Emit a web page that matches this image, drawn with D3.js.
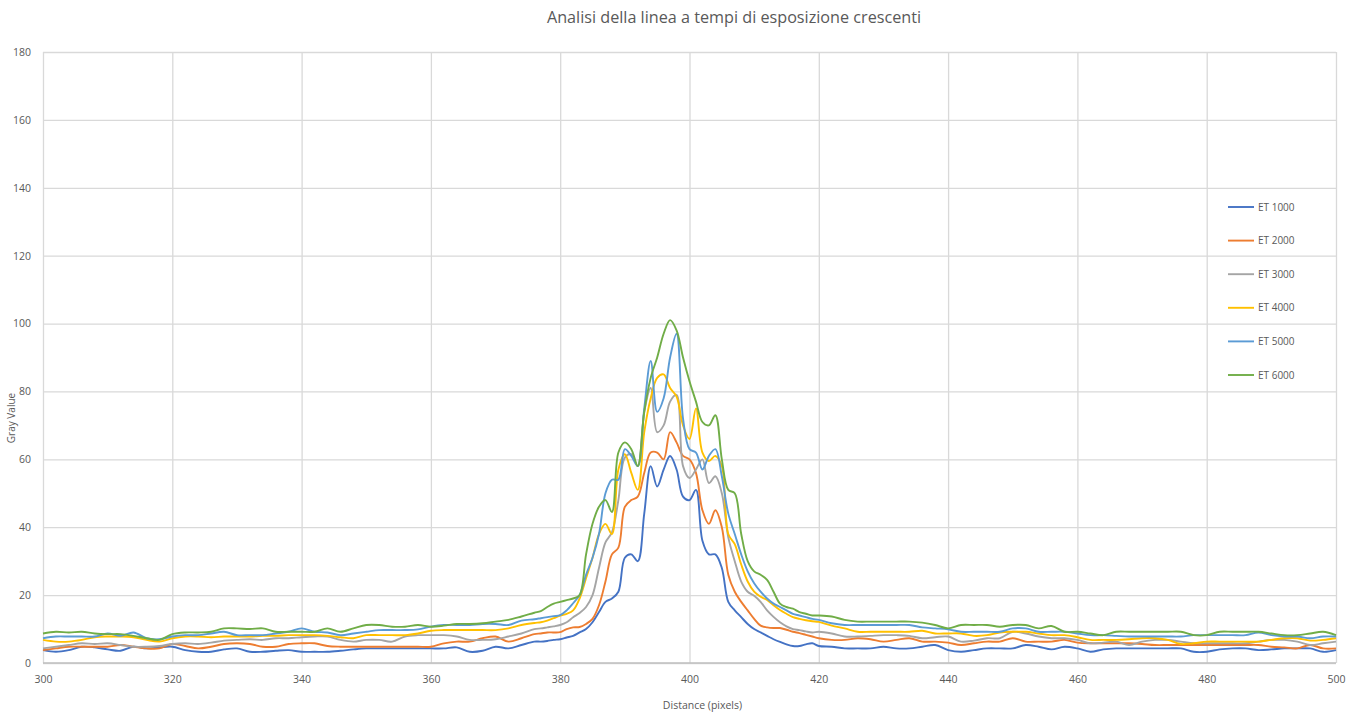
<!DOCTYPE html>
<html>
<head>
<meta charset="utf-8">
<script src="https://cdn.jsdelivr.net/npm/d3@7"></script>
<style>
  body { margin: 0; background: #fff; }
  text { font-family: "Open Sans", sans-serif; }
</style>
</head>
<body>
<div id="chart"></div>
<script>
// distance samples (pixels): every 2 px on the flat parts, every px around the peak
const distance = [
  ...d3.range(300, 377, 2),
  ...d3.range(377, 421, 1),
  ...d3.range(422, 501, 2),
];

// gray values
const et1000 = [
  3.8, 3.3, 3.8, 4.8, 4.6, 4, 3.6, 4.8, 4.3, 4.6,
  4.8, 3.8, 3.3, 3.3, 4, 4.3, 3.3, 3.3, 3.6, 3.8,
  3.3, 3.3, 3.3, 3.6, 4, 4.3, 4.3, 4.3, 4.3, 4.3,
  4.3, 4.3, 4.6, 3.3, 3.6, 4.8, 4.3, 5.3, 6.3,
  // 377 - 420
  6.3, 6.5, 6.8, 7, 7.5, 8, 9, 10, 12, 15,
  18, 19, 21, 31, 32, 30, 44, 58, 52, 57,
  61, 57, 49, 48, 51, 36, 32, 32, 28, 18,
  15.5, 13.5, 11.5, 10, 9, 8, 7, 6.2, 5.5, 5,
  5, 5.5, 5.8, 5,
  // 422 - 500
  4.8, 4.3, 4.3, 4.3, 4.8, 4.3, 4.3, 4.8, 5.3, 3.8,
  3.3, 3.8, 4.3, 4.3, 4.3, 5.3, 4.8, 4, 4.8, 4.3,
  3.3, 4, 4.3, 4.3, 4.3, 4.3, 4.3, 4.3, 3.3, 3.3,
  4, 4.3, 4.3, 3.8, 4, 4.3, 4.3, 4.3, 3.3, 3.8,
];
const et2000 = [
  3.8, 4.3, 4.8, 4.8, 4.8, 4.8, 5.3, 4.8, 4.3, 4.3,
  5.6, 5, 4.3, 4.8, 5.6, 5.8, 5.6, 4.8, 4.8, 5.6,
  5.8, 5.8, 5, 4.8, 4.8, 4.8, 4.8, 4.8, 4.8, 4.8,
  4.8, 5.8, 6.3, 6.3, 7.3, 7.8, 6.3, 7.3, 8.5,
  8.7, 9, 9, 9.1, 10, 10.5, 10.6, 11.5, 13, 17,
  24, 32, 34, 46, 48, 49, 56, 62, 62, 60,
  68, 65, 61, 60, 56, 45, 41, 45, 40, 26,
  21, 18, 15.5, 13, 11, 10.5, 10.3, 10.3, 9.8, 9.2,
  8.8, 8.3, 7.8, 7.3,
  6.8, 6.8, 7.3, 7, 6.3, 6.8, 7.3, 6.3, 6.3, 6,
  5.3, 5.8, 6.3, 6.3, 7.3, 6.3, 6.3, 6.3, 6.8, 6,
  5.8, 5.8, 5.8, 5.8, 5.6, 5.3, 5.3, 5.3, 5.3, 5.3,
  5.3, 5.3, 5.3, 5.3, 4.8, 4.6, 4.3, 5.3, 4.3, 4.3,
];
const et3000 = [
  4.3, 4.8, 5.3, 5.8, 5.6, 5.8, 5.3, 4.8, 4.8, 5,
  5.6, 5.8, 5.6, 6, 6.6, 6.8, 7, 6.8, 7.3, 7.3,
  7.6, 7.8, 7.8, 6.8, 6.3, 6.8, 6.8, 6.3, 7.8, 8.2,
  8.2, 8.2, 7.8, 6.8, 6.8, 7, 7.8, 8.7, 10,
  10.2, 10.5, 10.8, 11.2, 12, 13.5, 14.7, 16.5, 20, 28,
  35.5, 38.5, 48, 60.5, 61.5, 58, 74, 81, 68, 70,
  77, 79, 58, 54.5, 57, 60, 53, 55, 50, 37,
  30, 24, 21, 19.8, 18, 15.5, 13.6, 12, 10.8, 10,
  9.7, 9.3, 9, 9.2,
  8.7, 7.8, 7.8, 8, 8.2, 8.2, 8, 7.3, 7.6, 7.8,
  6.3, 6.6, 7.3, 7.3, 9.2, 8.7, 7.8, 7.3, 7.3, 6.8,
  5.8, 6, 6.3, 5.3, 6.3, 6.8, 6.8, 6.3, 5.8, 5.8,
  5.8, 5.8, 5.8, 6.3, 6.8, 6.8, 6.3, 5.3, 5.8, 6.3,
];
const et4000 = [
  6.8, 6.3, 6.3, 6.8, 7.6, 7.8, 7.8, 7.6, 6.8, 6.3,
  7.3, 7.8, 7.8, 7.6, 7.8, 7.8, 7.8, 8, 8, 8.2,
  8.2, 8.2, 8, 7.6, 7.3, 8.2, 8.2, 8.2, 8.2, 8.7,
  9.5, 9.7, 9.7, 9.7, 9.7, 9.7, 10.2, 11.2, 11.8,
  12, 12.5, 13.2, 14, 14.5, 15.5, 19, 25, 31, 38,
  41, 38, 57, 61.5, 56, 51, 68, 78, 84, 85,
  81, 78.5, 70, 66, 75, 62, 59.5, 61, 58, 38,
  35, 29, 24, 21, 19.5, 18.6, 17, 15.6, 14.5, 13.5,
  13, 12.6, 12.3, 12.1,
  11, 10.2, 9.2, 9.2, 9.2, 9.2, 9.2, 9.5, 8.7, 8.7,
  8.7, 8, 8.2, 9, 9.2, 9.2, 8.7, 8.2, 8.2, 7.6,
  6.8, 6.8, 6.8, 7, 7.3, 7.3, 6.8, 5.6, 5.8, 6.3,
  6.3, 6.3, 6.3, 6.3, 6.8, 7.3, 7.3, 6.6, 6.8, 7.3,
];
const et5000 = [
  7.3, 7.8, 7.8, 7.8, 7.8, 8.7, 8, 9, 7.3, 7,
  7.8, 8.2, 8.2, 8.7, 9.2, 8.2, 8.2, 8.2, 8.7, 9.2,
  10.2, 9.2, 9, 8.2, 8.7, 9.2, 9.7, 9.7, 9.7, 9.9,
  10.7, 11.2, 11.2, 11.2, 11.5, 11.5, 11.2, 12.5, 12.9,
  13.2, 13.5, 13.8, 14.1, 15.5, 17.6, 20, 26, 31, 38,
  50, 54, 54, 63, 61, 58, 75, 89, 74, 78,
  90, 97, 72, 63, 62, 57, 61, 63, 55, 44,
  38, 32, 27, 23.5, 21, 19, 17.5, 16.5, 15.5, 14.5,
  14, 13.5, 13, 12.7,
  11.7, 11.2, 11.2, 11.2, 11.2, 11.2, 11.2, 10.5, 10.2, 9.9,
  9.2, 9.2, 9.2, 9.2, 10.2, 10.2, 9.2, 9.2, 9.2, 8.7,
  8.2, 8.2, 8, 7.8, 7.8, 7.8, 7.8, 7.8, 8.2, 8.2,
  8.2, 8.2, 8.2, 9, 8.2, 7.8, 7.8, 7.3, 7.8, 7.8,
];
const et6000 = [
  8.7, 9.2, 9, 9.2, 8.7, 8.5, 8.5, 8, 7.3, 6.8,
  8.5, 9, 9, 9.2, 10.2, 10.2, 10, 10.2, 9.2, 9.2,
  9.2, 9.2, 10.2, 9.2, 10.2, 11.2, 11.2, 10.7, 10.7, 11.2,
  10.7, 11, 11.5, 11.5, 11.7, 12.2, 12.7, 13.7, 14.8,
  15.3, 16.5, 17.5, 18, 18.5, 19, 20, 32, 41, 46,
  48, 44.5, 62, 65, 63, 58, 74, 84, 90, 97,
  101, 98, 90, 83, 77, 71, 70, 73, 60, 51,
  50, 38, 30, 27, 26, 24.5, 21, 17.5, 16.5, 16,
  15, 14.5, 14, 14,
  13.7, 12.7, 12.2, 12.2, 12.2, 12.2, 12.2, 11.9, 11.2, 10.2,
  11.2, 11.2, 11.2, 10.7, 11.2, 11.2, 10.2, 10.9, 9.2, 9.2,
  8.7, 8.2, 9.2, 9.2, 9.2, 9.2, 9.2, 9.2, 8.2, 8.2,
  9.2, 9.2, 9.2, 9.2, 8.7, 8.2, 8.2, 8.7, 9.2, 8.2,
];

const seriesNames = ["ET 1000", "ET 2000", "ET 3000", "ET 4000", "ET 5000", "ET 6000"];
const seriesValues = [et1000, et2000, et3000, et4000, et5000, et6000];
const seriesColors = ["#4472c4", "#ed7d31", "#a5a5a5", "#ffc000", "#5b9bd5", "#70ad47"];
const xTicks = [300, 320, 340, 360, 380, 400, 420, 440, 460, 480, 500];
const yTicks = [0, 20, 40, 60, 80, 100, 120, 140, 160, 180];

// set the dimensions and margins of the graph
const W = 1364, H = 717;
const margin = { top: 52, right: 28, bottom: 54, left: 43 },
  width = W - margin.left - margin.right,
  height = H - margin.top - margin.bottom;

const root = d3
  .select("#chart")
  .append("svg")
  .attr("width", W)
  .attr("height", H);

const svg = root
  .append("g")
  .attr("transform", `translate(${margin.left},${margin.top})`);

const x = d3.scaleLinear().domain([300, 500]).range([0, width]);
const y = d3.scaleLinear().domain([0, 180]).range([height, 0]);

// grid (excel style, light gray)
svg
  .append("g")
  .attr("class", "grid-x")
  .attr("transform", `translate(0, ${height})`)
  .call(d3.axisBottom(x).tickValues(xTicks).tickSize(-height).tickFormat(""))
  .call((g) => g.select(".domain").remove())
  .call((g) => g.selectAll("line").attr("stroke", "#d9d9d9").attr("stroke-width", 1.3));

svg
  .append("g")
  .attr("class", "grid-y")
  .call(d3.axisLeft(y).tickValues(yTicks).tickSize(-width).tickFormat(""))
  .call((g) => g.select(".domain").remove())
  .call((g) => g.selectAll("line").attr("stroke", "#d9d9d9").attr("stroke-width", 1.3));

// axis baseline
svg
  .append("line")
  .attr("x1", 0)
  .attr("x2", width)
  .attr("y1", y(0))
  .attr("y2", y(0))
  .attr("stroke", "#bfbfbf")
  .attr("stroke-width", 1.3);

// tick labels
svg
  .append("g")
  .attr("transform", `translate(0, ${height})`)
  .call(d3.axisBottom(x).tickValues(xTicks).tickSize(0).tickPadding(13))
  .call((g) => g.select(".domain").remove())
  .call((g) =>
    g.selectAll("text").attr("fill", "#595959").attr("font-size", 10.5).style("font-family", "Open Sans"),
  );

svg
  .append("g")
  .call(d3.axisLeft(y).tickValues(yTicks).tickSize(0).tickPadding(12))
  .call((g) => g.select(".domain").remove())
  .call((g) =>
    g.selectAll("text").attr("fill", "#595959").attr("font-size", 10.5).style("font-family", "Open Sans"),
  );

// lines
const line = d3
  .line()
  .x((d, i) => x(distance[i]))
  .y((d) => y(d))
  .curve(d3.curveCatmullRom.alpha(0.5));

svg
  .append("g")
  .selectAll("path")
  .data(seriesValues)
  .join("path")
  .attr("fill", "none")
  .attr("stroke", (d, i) => seriesColors[i])
  .attr("stroke-width", 1.9)
  .attr("stroke-linejoin", "round")
  .attr("d", line);

// title
root
  .append("text")
  .attr("x", 734)
  .attr("y", 23)
  .attr("text-anchor", "middle")
  .attr("font-size", 16.2)
  .attr("fill", "#595959")
  .text("Analisi della linea a tempi di esposizione crescenti");

// axis titles
root
  .append("text")
  .attr("x", margin.left + width / 2 + 13)
  .attr("y", 709)
  .attr("text-anchor", "middle")
  .attr("font-size", 10.5)
  .attr("fill", "#595959")
  .text("Distance (pixels)");

root
  .append("text")
  .attr("transform", "rotate(-90)")
  .attr("x", -418)
  .attr("y", 15)
  .attr("text-anchor", "middle")
  .attr("font-size", 10)
  .attr("fill", "#595959")
  .text("Gray Value");

// legend
const legend = root
  .append("g")
  .attr("transform", "translate(1228, 207)")
  .selectAll("g")
  .data(seriesNames)
  .join("g")
  .attr("transform", (d, i) => `translate(0, ${i * 33.6})`);

legend
  .append("line")
  .attr("x1", 0)
  .attr("x2", 26)
  .attr("stroke", (d, i) => seriesColors[i])
  .attr("stroke-width", 1.9);

legend
  .append("text")
  .attr("x", 30)
  .attr("dy", "0.35em")
  .attr("font-size", 10)
  .attr("fill", "#595959")
  .text((d) => d);
</script>
</body>
</html>
